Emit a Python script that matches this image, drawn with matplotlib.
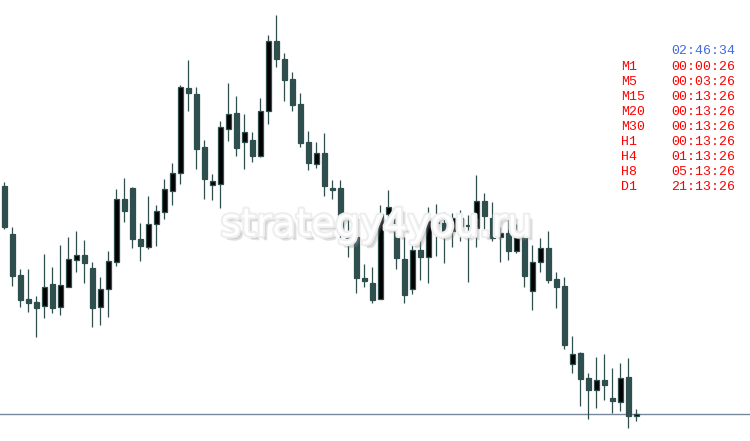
import matplotlib
matplotlib.use("Agg")
import matplotlib.pyplot as plt
import matplotlib.patheffects as pe

# candle data (price units), oldest first
opens = [255, 207, 166, 142, 139, 135, 157, 134, 154, 181, 186, 173, 134, 152, 179, 242,
         253, 202, 194, 217, 229, 250, 268, 353, 347, 294, 256, 257, 312, 328, 299, 301,
         285, 330, 400, 382, 362, 337, 299, 277, 288, 253, 253, 208, 204, 163, 158, 142,
         227, 233, 182, 152, 191, 184, 219, 218, 210, 223, 216, 213, 240, 223, 204, 208,
         190, 209, 150, 179, 193, 162, 155, 77, 88, 63, 51, 61, 43, 39, 64, 25]
highs = [259, 214, 172, 172, 145, 187, 174, 196, 204, 210, 201, 179, 164, 190, 252, 263,
         254, 218, 245, 236, 262, 278, 356, 381, 354, 301, 267, 320, 358, 345, 327, 309,
         343, 406, 426, 388, 369, 348, 310, 299, 308, 261, 261, 221, 222, 177, 174, 236,
         251, 234, 204, 197, 202, 234, 237, 229, 228, 231, 226, 266, 248, 239, 214, 226,
         217, 210, 196, 203, 210, 169, 164, 105, 89, 68, 84, 87, 73, 78, 83, 32]
lows = [212, 155, 134, 129, 104, 123, 128, 126, 154, 169, 158, 114, 116, 124, 175, 219,
        193, 180, 192, 195, 222, 236, 257, 330, 272, 242, 241, 233, 300, 285, 272, 279,
        284, 317, 374, 340, 330, 294, 271, 273, 245, 242, 203, 184, 148, 154, 138, 142,
        215, 172, 138, 147, 161, 158, 185, 178, 194, 200, 159, 194, 208, 200, 179, 181,
        188, 154, 131, 169, 158, 133, 92, 68, 35, 22, 33, 41, 28, 30, 13, 20]
closes = [214, 165, 141, 138, 133, 154, 133, 156, 182, 186, 178, 133, 152, 180, 242, 230,
          202, 195, 217, 230, 252, 268, 354, 348, 292, 262, 260, 314, 327, 293, 309, 285,
          330, 400, 382, 361, 336, 298, 278, 288, 255, 251, 208, 203, 163, 160, 141, 227,
          234, 183, 146, 191, 184, 220, 218, 205, 223, 215, 215, 240, 225, 203, 208, 190,
          209, 165, 179, 193, 161, 154, 96, 87, 62, 51, 61, 56, 40, 63, 25, 27]
bid = 27

timeframes = ["M1", "M5", "M15", "M20", "M30", "H1", "H4", "H8", "D1"]
time_left = ["00:00:26", "00:03:26", "00:13:26", "00:13:26", "00:13:26",
             "00:13:26", "01:13:26", "05:13:26", "21:13:26"]
server_time = "02:46:34"

slate = "#2f4f4f"

fig = plt.figure(figsize=(7.5, 4.41), dpi=100)
ax = fig.add_axes([0, 0, 1, 1])
ax.set_xlim(-0.54, 93.2)
ax.set_ylim(0, 441)
ax.axis("off")

x = list(range(len(opens)))
bottoms = [min(o, c) for o, c in zip(opens, closes)]
heights = [abs(c - o) for o, c in zip(opens, closes)]
fills = ["black" if c > o else slate for o, c in zip(opens, closes)]

# wicks and bodies
ax.vlines(x, lows, highs, color=slate, linewidth=0.9, zorder=3)
ax.bar(x, heights, bottom=bottoms, width=0.56, color=fills,
       edgecolor=slate, linewidth=0.9, zorder=4)

# bid line
ax.axhline(bid, color="#778899", linewidth=1, zorder=2)

# watermark
shadow = [pe.SimplePatchShadow(offset=(3, -3), shadow_rgbFace="#888888", alpha=0.25),
          pe.SimplePatchShadow(offset=(2, -2), shadow_rgbFace="#999999", alpha=0.25),
          pe.Stroke(linewidth=3, foreground="#eeeeee"),
          pe.Normal()]
fig.text(376 / 750, 1 - 236 / 441, "strategy4you.ru", fontsize=28,
         color="white", ha="center", va="baseline", zorder=1,
         path_effects=shadow)

# timer panel
mono = "Liberation Mono"
fig.text(735 / 750, 1 - 51 / 441, server_time, family=mono, fontsize=9.5,
         color="#4169e1", ha="right", va="center")
for i, (tf, t) in enumerate(zip(timeframes, time_left)):
    y = 1 - (67 + 15 * i) / 441
    fig.text(621 / 750, y, tf, family=mono, fontsize=9.5, color="red",
             ha="left", va="center")
    fig.text(735 / 750, y, t, family=mono, fontsize=9.5, color="red",
             ha="right", va="center")

fig.savefig("out.png", dpi=100, facecolor="white")
